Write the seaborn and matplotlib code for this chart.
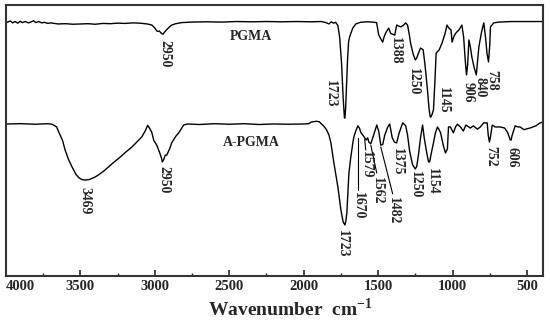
import matplotlib
matplotlib.use("Agg")
import numpy as np
import pandas as pd
import matplotlib.pyplot as plt
import seaborn as sns

# ── data (wavenumber cm-1, transmittance a.u.) ─────────────────────────────
pgma_wn = [3998, 3985, 3970, 3955, 3940, 3920, 3905, 3890, 3870, 3850, 3830, 3815,
           3800, 3780, 3760, 3740, 3720, 3700, 3650, 3600, 3550, 3500, 3450, 3400,
           3350, 3300, 3250, 3200, 3150, 3100, 3050, 3020, 3000, 2985, 2970, 2955,
           2945, 2935, 2915, 2890, 2860, 2820, 2750, 2650, 2550, 2450, 2350, 2250,
           2150, 2050, 1950, 1880, 1850, 1830, 1815, 1800, 1785, 1770, 1758, 1745,
           1735, 1726, 1723, 1718, 1712, 1705, 1698, 1690, 1670, 1650, 1620, 1580,
           1540, 1510, 1496, 1482, 1469, 1460, 1449, 1440, 1429, 1415, 1402, 1388,
           1375, 1349, 1330, 1315, 1302, 1290, 1282, 1265, 1250, 1240, 1228, 1215,
           1205, 1197, 1185, 1170, 1158, 1150, 1145, 1138, 1128, 1118, 1110, 1090,
           1070, 1050, 1037, 1025, 1010, 1003, 990, 977, 957, 937, 925, 915, 906,
           898, 890, 880, 870, 855, 840, 832, 823, 805, 790, 778, 768, 758, 750, 745,
           723, 690, 600, 500, 392]
pgma_t = [93.5, 93.8, 94.1, 93.4, 93.9, 93.3, 94.0, 93.5, 93.9, 93.4, 93.8, 94.2,
          93.5, 93.9, 93.4, 93.6, 93.2, 93.4, 93.0, 93.1, 92.9, 93.0, 93.1, 92.9,
          93.2, 93.1, 93.3, 93.2, 93.4, 93.3, 93.0, 92.6, 91.5, 90.3, 90.4, 89.5,
          89.2, 90.0, 91.2, 92.5, 93.1, 93.5, 93.7, 93.8, 93.7, 93.9, 93.8, 93.9,
          93.8, 93.9, 93.8, 93.9, 93.5, 93.0, 93.8, 93.3, 93.6, 92.4, 88.0, 78.0,
          66.0, 58.3, 58.3, 62.0, 70.0, 80.0, 86.5, 88.5, 91.5, 93.0, 93.6, 93.8,
          93.7, 93.5, 89.0, 87.5, 86.3, 88.2, 89.7, 90.5, 91.5, 89.5, 89.2, 88.9,
          92.6, 91.9, 92.5, 93.4, 92.6, 89.0, 86.0, 82.0, 79.7, 80.5, 82.3, 84.1,
          83.8, 83.4, 78.0, 69.7, 62.0, 58.7, 58.7, 59.5, 61.3, 72.0, 82.3, 83.4,
          86.0, 89.5, 92.6, 91.5, 90.8, 86.3, 88.5, 89.7, 90.8, 92.6, 88.0, 80.0,
          74.2, 78.0, 87.1, 84.5, 80.8, 77.0, 74.2, 79.0, 84.5, 90.0, 93.4, 88.0,
          82.0, 79.0, 85.0, 91.9, 93.4, 93.7, 93.9, 93.9, 93.9]

apgma_wn = [3998, 3900, 3800, 3720, 3690, 3660, 3643, 3620, 3603, 3580, 3556, 3530,
            3509, 3490, 3469, 3440, 3402, 3370, 3335, 3290, 3241, 3200, 3154, 3120,
            3088, 3065, 3048, 3035, 3021, 3007, 2987, 2967, 2955, 2950, 2940, 2930,
            2920, 2900, 2887, 2860, 2840, 2820, 2807, 2780, 2700, 2600, 2500, 2400,
            2300, 2200, 2100, 2000, 1965, 1950, 1915, 1895, 1875, 1860, 1845, 1830,
            1817, 1797, 1783, 1770, 1750, 1735, 1723, 1716, 1710, 1703, 1696, 1683,
            1670, 1663, 1650, 1636, 1625, 1616, 1603, 1590, 1579, 1570, 1562, 1549,
            1530, 1509, 1496, 1482, 1469, 1455, 1435, 1422, 1405, 1390, 1375, 1360,
            1335, 1315, 1302, 1288, 1268, 1250, 1240, 1228, 1215, 1201, 1190, 1175,
            1161, 1154, 1140, 1128, 1115, 1101, 1090, 1080, 1061, 1047, 1034, 1027,
            1014, 994, 980, 967, 947, 927, 910, 880, 860, 833, 813, 790, 767, 760,
            752, 746, 733, 713, 680, 650, 630, 612, 606, 599, 579, 560, 546, 520,
            479, 440, 412, 392]
apgma_t = [56.1, 56.2, 56.0, 56.2, 56.0, 55.0, 52.8, 50.0, 46.5, 43.0, 40.2, 37.5,
           36.2, 35.6, 35.4, 35.6, 36.5, 37.6, 39.1, 41.3, 43.5, 45.5, 47.6, 49.5,
           51.3, 53.5, 55.6, 54.5, 53.1, 50.0, 48.3, 45.4, 43.5, 42.1, 43.0, 44.6,
           44.6, 47.0, 49.1, 51.5, 52.8, 54.5, 55.7, 56.1, 55.9, 56.2, 56.0, 56.2,
           55.9, 56.1, 56.0, 56.1, 56.2, 56.8, 57.1, 56.9, 55.8, 55.0, 53.8, 52.0,
           49.1, 41.7, 37.0, 32.8, 24.4, 20.0, 18.8, 20.5, 23.2, 30.6, 38.0, 44.0,
           49.0, 51.3, 53.5, 55.4, 54.5, 53.0, 52.0, 51.0, 50.2, 51.0, 49.4, 48.8,
           52.0, 55.7, 53.5, 48.3, 48.5, 52.0, 55.0, 56.1, 51.0, 49.4, 49.1, 52.5,
           56.5, 55.5, 52.0, 46.0, 41.0, 39.5, 40.5, 45.0, 51.0, 55.7, 51.0, 46.0,
           42.1, 42.1, 46.0, 49.1, 52.8, 55.0, 54.0, 52.8, 48.0, 45.4, 47.0, 55.0,
           55.0, 52.8, 55.0, 56.0, 55.0, 53.5, 55.7, 54.6, 55.4, 54.2, 55.0, 56.5,
           56.5, 52.0, 49.4, 51.0, 55.7, 55.0, 55.0, 54.6, 53.0, 50.2, 50.2, 52.0,
           55.4, 55.0, 55.0, 54.0, 54.6, 55.4, 56.5, 56.8]

# peak labels: text, x (cm-1), top of text (a.u.)
pgma_lbl = ["2950", "1723", "1388", "1250", "1145", "906", "840", "758"]
pgma_lx = [2934, 1817, 1382, 1261, 1061, 893, 812, 735]
pgma_ly = [87.1, 72.3, 88.2, 76.8, 69.7, 71.6, 73.4, 76.0]

apgma_lbl = ["3469", "2950", "1723", "1670", "1579", "1562", "1482", "1375",
             "1250", "1154", "752", "606"]
apgma_lx = [3469, 2940, 1737, 1629, 1576, 1503, 1395, 1369, 1248, 1134, 746, 599]
apgma_ly = [32.8, 40.6, 17.0, 31.0, 46.1, 36.5, 29.2, 47.2, 38.7, 39.9, 48.0, 47.6]

# leader lines (x0, y0, x1, y1)
leaders = [(1636, 50.9, 1636, 31.7),
           (1590, 50.5, 1583, 46.5),
           (1549, 48.3, 1509, 38.0),
           (1482, 47.6, 1402, 30.3)]

xticks = [4000, 3500, 3000, 2500, 2000, 1500, 1000, 500]

sns.set_style("ticks")
SERIF = ["Liberation Serif", "DejaVu Serif"]
plt.rcParams["font.family"] = SERIF
plt.rcParams["font.weight"] = "bold"
plt.rcParams["mathtext.fontset"] = "custom"
plt.rcParams["mathtext.rm"] = "Liberation Serif:bold"

fig = plt.figure(figsize=(5.5, 3.2), dpi=100)
ax = fig.add_axes([6 / 550, 1 - 276 / 320, 537 / 550, 271 / 320])

df1 = pd.DataFrame({"wn": pgma_wn, "t": pgma_t})
df2 = pd.DataFrame({"wn": apgma_wn, "t": apgma_t})
sns.lineplot(data=df1, x="wn", y="t", sort=False, color="black", lw=1.0, ax=ax)
sns.lineplot(data=df2, x="wn", y="t", sort=False, color="black", lw=1.0, ax=ax)

for s, x, y in zip(pgma_lbl + apgma_lbl, pgma_lx + apgma_lx, pgma_ly + apgma_ly):
    ax.text(x, y, s, rotation=270, ha="center", va="top", fontsize=9.8,
            fontweight="bold")
for x0, y0, x1, y1 in leaders:
    ax.plot([x0, x1], [y0, y1], color="black", lw=0.8)

ax.text(2357, 88.2, "PGMA", ha="center", va="center", fontsize=10, fontweight="bold")
ax.text(2349, 49.4, "A-PGMA", ha="center", va="center", fontsize=10, fontweight="bold")

ax.set_xlim(4000, 392)
ax.set_ylim(0, 100)
ax.set_yticks([])
ax.set_xticks(xticks)
ax.set_xticks([3750, 3250, 2750, 2250, 1750, 1250, 750], minor=True)
ax.set_xticklabels([str(v) for v in xticks], fontsize=10.5, fontweight="bold")
ax.get_xticklabels()[0].set_ha("left")
ax.tick_params(axis="x", which="major", direction="in", length=4, width=1.2, pad=3)
ax.tick_params(axis="x", which="minor", direction="in", length=2.5, width=1.0)
ax.set_xlabel("Wavenumber  cm$^{\\mathrm{-1}}$", fontsize=14, fontweight="bold",
              labelpad=0)
ax.xaxis.set_label_coords(0.53, -0.078)
ax.set_ylabel("")
for sp in ax.spines.values():
    sp.set_visible(True)
    sp.set_linewidth(1.5)
    sp.set_color("#333333")

fig.savefig("out.png", dpi=100)
